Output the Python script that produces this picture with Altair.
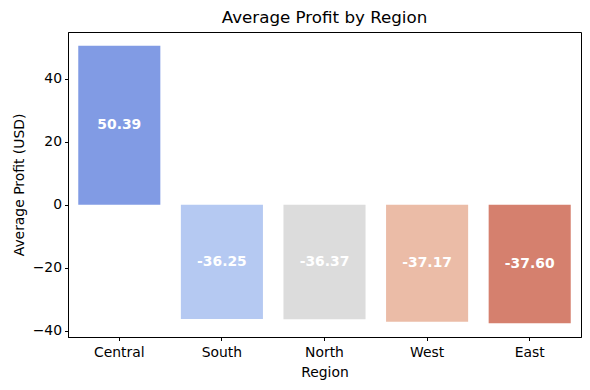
import altair as alt
import pandas as pd

regions = ["Central", "South", "North", "West", "East"]
profits = [50.39, -36.25, -36.37, -37.17, -37.60]
colors = ["#819be4", "#b5c9f2", "#dcdcdc", "#ebbca7", "#d5806e"]

df = pd.DataFrame({"Region": regions, "Profit": profits, "Color": colors})
df["Half"] = df["Profit"] / 2
df["Label"] = [f"{v:.2f}" for v in profits]

FS = 13.9

x = alt.X("Region:N", sort=regions, title="Region",
          scale=alt.Scale(paddingInner=0.2, paddingOuter=0.1),
          axis=alt.Axis(labelAngle=0, labelFont="DejaVu Sans", labelFontSize=FS,
                        labelColor="black", titleFont="DejaVu Sans", titleFontSize=FS,
                        titleFontWeight="normal", titleColor="black", tickColor="black",
                        domainColor="black", tickSize=3.5, labelPadding=5, titlePadding=6))

y_axis = alt.Axis(values=[-40, -20, 0, 20, 40], grid=False,
                  labelExpr="replace(datum.label, '-', '\u2212')",
                  labelFont="DejaVu Sans", labelFontSize=FS, labelColor="black",
                  titleFont="DejaVu Sans", titleFontSize=FS, titleFontWeight="normal",
                  titleColor="black", tickColor="black", domainColor="black",
                  tickSize=3.5, labelPadding=3, titlePadding=6)

base = alt.Chart(df)

bars = base.mark_bar().encode(
    x=x,
    y=alt.Y("Profit:Q", title="Average Profit (USD)",
            scale=alt.Scale(domain=[-42.0, 54.79], nice=False, zero=False),
            axis=y_axis),
    color=alt.Color("Color:N", scale=None),
)

labels = base.mark_text(color="white", fontWeight="bold", fontSize=FS,
                        font="DejaVu Sans", baseline="middle").encode(
    x=alt.X("Region:N", sort=regions),
    y=alt.Y("Half:Q"),
    text=alt.Text("Label:N"),
)

chart = (bars + labels).properties(
    width=513, height=305,
    title=alt.TitleParams("Average Profit by Region", font="DejaVu Sans",
                          fontSize=16.7, fontWeight="normal", color="black", offset=5),
    autosize=alt.AutoSizeParams(type="none"),
    padding={"left": 60, "top": 24, "right": 1, "bottom": 45},
).configure_view(stroke="black", strokeWidth=1).configure_axis(grid=False)

chart.save("out.html", embed_options={"renderer": "svg", "actions": False})
